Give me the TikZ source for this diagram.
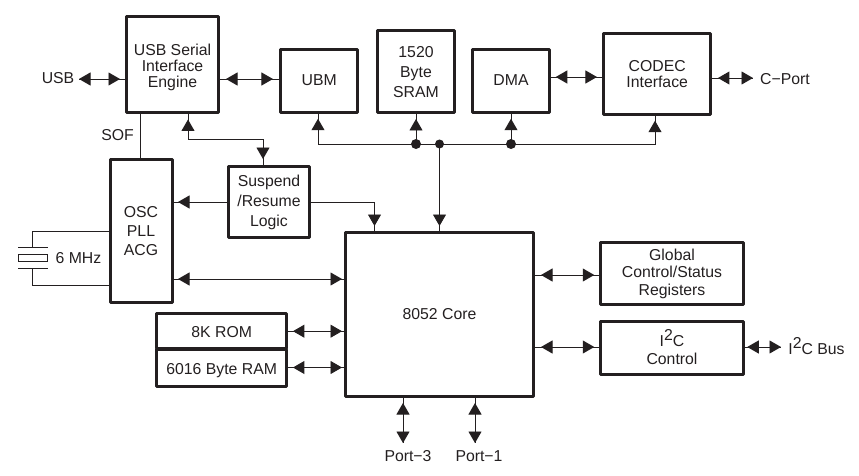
\documentclass[tikz,border=0pt]{standalone}
\usepackage{fontspec}
\setmainfont{Liberation Sans}
\usetikzlibrary{arrows.meta}
\definecolor{ink}{HTML}{231F20}
\tikzset{
  lh/.style={font=\fontsize{15.8}{#1}\selectfont},
  box/.style={draw=ink,line width=3pt,text=ink,align=center,inner sep=0pt,line join=round,lh=16},
  lbl/.style={text=ink,inner sep=0pt,lh=16},
  wire/.style={draw=ink,line width=0.95pt},
  tipp/.style={-{Triangle[length=11.5pt,width=13pt]}},
  bi/.style 2 args={wire,postaction={draw=ink,line width=0.95pt,shorten <=#1pt,shorten >=#2pt,{Triangle[length=11.5pt,width=13pt]}-{Triangle[length=11.5pt,width=13pt]}}},
  uni/.style={wire,postaction={draw=ink,line width=0.95pt,shorten >=#1pt,tipp}},
  dot/.style={circle,fill=ink,inner sep=0pt,minimum size=#1pt},
}
\newcommand{\sqtwo}{\raisebox{0.38em}{2}}
\newcommand{\up}[1]{\rule[-#1pt]{0pt}{0pt}}
\newcommand{\dn}[1]{\rule{0pt}{#1pt}}
\begin{document}
\begin{tikzpicture}[x=1pt,y=-1pt]
\useasboundingbox (0,0) rectangle (859,476);
% boxes
\node[box,minimum width=92pt,minimum height=96pt] (sie) at (172.5,64.5) {\dn{17.5}USB Serial\\Interface\\Engine};
\node[box,minimum width=77.5pt,minimum height=63.5pt] (ubm) at (319.2,81) {UBM\up{2}};
\node[box,lh=20,minimum width=77.5pt,minimum height=82pt] (sram) at (416,72) {1520\\Byte\\SRAM};
\node[box,minimum width=77.5pt,minimum height=63.5pt] (dma) at (511,81) {DMA\up{2}};
\node[box,minimum width=107.5pt,minimum height=81pt] (codec) at (657.2,74.2) {CODEC\\Interface};
\node[box,lh=19,minimum width=62pt,minimum height=143pt] (osc) at (141,231) {OSC\\PLL\\ACG};
\node[box,lh=20,minimum width=81.5pt,minimum height=71pt] (susp) at (269,202) {Suspend\\/Resume\\Logic};
\node[box,minimum width=188pt,minimum height=164pt] (core) at (439.5,314.5) {8052 Core};
\node[box,lh=17.5,minimum width=143.5pt,minimum height=62pt] (glob) at (672,273.5) {Global\\Control/Status\\Registers};
\node[box,lh=18,minimum width=143.5pt,minimum height=53pt] (i2c) at (672,348) {I\sqtwo C\\Control\up{2}};
\node[box,minimum width=129.5pt,minimum height=35.5pt] (rom) at (221.7,331.2) {\dn{13.4}8K ROM};
\node[box,minimum width=129.5pt,minimum height=37pt] (ram) at (221.7,367.5) {\dn{16.4}6016 Byte RAM};
% free labels
\node[lbl] (usbl) at (58,78) {USB};
\node[lbl] (cportl) at (785,79) {C−Port};
\node[lbl] (i2cbl) at (816.5,346) {I\sqtwo C Bus};
\node[lbl] (sofl) at (117.5,135) {SOF};
\node[lbl] (mhzl) at (78.5,258) {6 MHz};
\node[lbl] (p3l) at (408,456) {Port−3};
\node[lbl] (p1l) at (479,456) {Port−1};
% free ends
\coordinate (usbt) at (79,79);
\coordinate (cpt) at (753,78);
\coordinate (i2ct) at (781,347);
\coordinate (p3t) at (403,443);
\coordinate (p1t) at (475,443);
% double arrows
\draw[bi={0}{5}] (usbt) -- (sie.west |- usbt);
\draw[bi={6}{6}] (sie.east |- 0,79) -- (ubm.west |- 0,79);
\draw[bi={4.5}{5}] (dma.east |- 0,77) -- (codec.west |- 0,77);
\draw[bi={5.5}{0}] (codec.east |- cpt) -- (cpt);
\draw[bi={4.5}{2}] (osc.east |- 0,279) -- (core.west |- 0,279);
\draw[bi={5}{2}] (rom.east) -- (core.west |- rom.east);
\draw[bi={5}{2}] (ram.east) -- (core.west |- ram.east);
\draw[bi={6}{4.5}] (core.east |- 0,275) -- (glob.west |- 0,275);
\draw[bi={6}{4.5}] (core.east |- 0,347) -- (i2c.west |- 0,347);
\draw[bi={2}{0}] (i2c.east |- i2ct) -- (i2ct);
\draw[bi={5}{0}] (core.south -| p3t) -- (p3t);
\draw[bi={5}{0}] (core.south -| p1t) -- (p1t);
% SOF
\draw[wire] (sie.south -| 140.5,0) -- (osc.north -| 140.5,0);
% SIE - suspend
\draw[bi={5.5}{6}] (sie.south -| 188,0) |- (263,139) -- (susp.north -| 263,0);
% suspend out
\draw[uni=4.5] (susp.west) -- (osc.east |- susp.west);
\draw[uni=5] (susp.east) -| (core.north -| 374.5,0);
% bus
\node[dot=10] (d1) at (416,144) {};
\node[dot=9] (d2) at (439.5,144) {};
\node[dot=10] (d3) at (511,144) {};
\draw[uni=4.5] (d1.center) -| (ubm.south -| 318,0);
\draw[uni=4.5] (d3.center) -| (codec.south -| 655,0);
\draw[wire] (d1.center) -- (d3.center);
\draw[uni=4.5] (d1.center) -- (sram.south -| d1);
\draw[uni=4.5] (d3.center) -- (dma.south -| d3);
\draw[uni=5] (d2.center) -- (core.north -| d2);
% crystal
\coordinate (xa) at (32.5,247);
\coordinate (xb) at (32.5,268);
\draw[wire] (osc.west |- 0,231) -| (xa);
\draw[wire] (osc.west |- 0,285) -| (xb);
\draw[wire] (18,247) -- (48,247);
\draw[wire] (18,268) -- (48,268);
\draw[wire] (18.5,254.5) rectangle (47,261);
\end{tikzpicture}
\end{document}
